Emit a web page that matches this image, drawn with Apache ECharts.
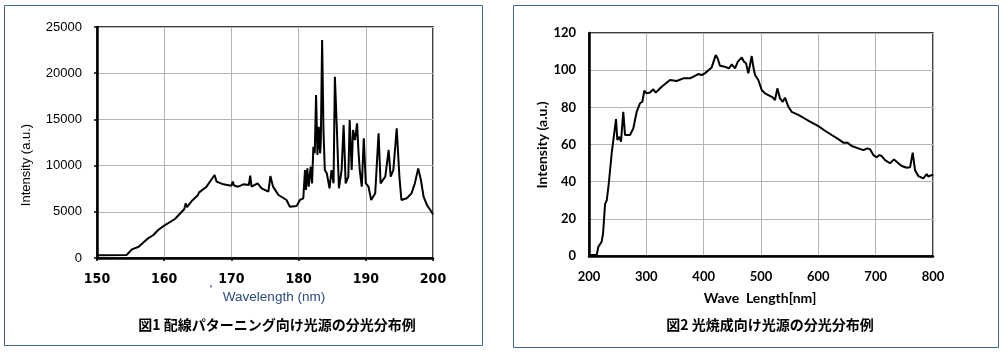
<!DOCTYPE html>
<html><head><meta charset="utf-8">
<script src="https://cdn.jsdelivr.net/npm/echarts@6/dist/echarts.min.js"></script>
<style>html,body{margin:0;padding:0;background:#fff}#c{width:1004px;height:354px}</style>
</head><body><div id="c"></div>
<script>
// Figure 1: wiring patterning light source spectrum
const leftX = [150,154.4,155.2,156.2,157.6,158.4,159.1,160,161.6,163.0,163.2,163.4,164.1,165.0,165.2,165.4,166.3,167.5,167.8,168.8,170,170.2,170.4,171,171.8,172.6,172.8,173,173.9,174.5,175.5,175.8,176.2,177,177.5,177.7,178.2,178.7,179.7,180.2,180.7,180.95,181.1,181.3,181.5,181.8,182.0,182.2,182.4,182.6,182.8,183.0,183.2,183.3,183.5,183.7,183.9,184.2,184.6,184.9,185.2,185.4,185.7,186.0,186.4,186.7,187.0,187.4,187.6,187.9,188.1,188.4,188.7,188.9,189.1,189.4,189.7,190.0,190.4,190.8,191.4,191.9,192.2,192.9,193.4,193.7,194.1,194.6,195.0,195.3,196.1,196.8,197.3,197.8,198.2,198.6,199.1,200];
const leftY = [300,320,940,1220,2130,2490,3030,3500,4220,5300,5920,5500,6170,6800,7100,6900,7720,8980,8260,7970,7820,8260,7850,7720,7970,7900,8910,7720,8080,7540,7180,8870,7720,6820,6600,6740,6280,5550,5630,6280,6460,9520,7360,9700,7720,9880,8080,12040,11330,17640,11140,14200,11330,12410,23590,13850,9520,9160,7540,9520,8080,19620,13850,7540,9520,14390,8080,8800,14930,9520,13850,12770,14570,11690,9520,7720,12950,8080,7720,6280,7000,13490,8080,8800,11690,8800,9520,14030,8800,6280,6460,7000,8080,9700,8440,6630,5730,4730];
const leftXTicks = [150,160,170,180,190,200];
const leftYTicks = [0,5000,10000,15000,20000,25000];

// Figure 2: photo-sintering light source spectrum
const rightX = [200,213.4,216.3,222.1,224.5,228,231,234.5,239.6,242.4,247.1,249.4,252.9,255.8,259.8,262.8,271.5,277.3,283.2,289,293,296.5,300.6,306.4,312.2,316.3,326.8,341.3,353,364.5,376.2,390.7,396.6,402.3,414,421,424.5,428.5,437.2,444.2,448.9,454.7,459.4,462.2,466.4,470.4,473.9,477.9,483.8,486.6,489.6,492.5,495.3,501.2,507,510,520.4,524.4,528.5,533.2,537.9,541.9,547.7,553.5,565.1,573.8,585.5,600,611.6,623.3,634.9,643.6,650.6,658.3,669.8,678.6,685.5,690.2,696,701.9,706.4,710.6,716.3,725.1,732,739.5,745.5,754.2,760,764.6,768.6,774.4,783.1,789,791.9,797.8,800];
const rightY = [0.5,0.5,5,7.7,12,28,30,39,55.3,56.1,73.7,62.4,64.2,61.5,77.6,65.1,65.1,68.7,77.6,82.2,83,88.9,87.5,88,89.7,87.9,91.1,94.7,94.2,95.6,95.6,97.9,97.4,98.3,101.5,108.1,106.3,102.4,101.8,101,103.1,101,104.5,103.7,106.9,104.5,103.7,98.3,107.6,101.8,97.4,98.3,94.7,89.3,87.5,87,85.4,83.9,90.2,84.8,83,85.2,80.3,77.6,75.9,74.4,72.3,69.9,67.4,65.1,62.9,61,61,59.2,57.9,57,57.9,57.4,54.3,53.1,54.3,53.8,51.6,49.9,52,49.9,48.4,47.5,47.7,55.6,46.3,43,41.8,44.1,42.7,43.6,43];
const rightXTicks = [200,300,400,500,600,700,800];
const rightYTicks = [0,20,40,60,80,100,120];

const texts = {
  leftYName: 'Intensity (a.u.)', leftXName: 'Wavelength (nm)',
  leftTitle: '図1 配線パターニング向け光源の分光分布例',
  rightYName: 'Intensity (a.u.)', rightXName: 'Wave  Length[nm]',
  rightTitle: '図2 光焼成向け光源の分光分布例'
};

const chart = echarts.init(document.getElementById('c'), null, {renderer:'canvas'});
const pair = (xs, ys) => xs.map((x,i)=>[x, ys[i]]);
const gridLine = {show:true, lineStyle:{color:'#b4b4b4', width:1}};
const cjk = '"Noto Sans CJK JP", sans-serif';
const plain = v => String(v);

chart.setOption({
  animation:false,
  grid:[
    {left:97, top:27, width:336, height:231, show:true, borderColor:'#000', borderWidth:1.5, backgroundColor:'transparent'},
    {left:589, top:33, width:344, height:223, show:true, borderColor:'#000', borderWidth:1.5, backgroundColor:'transparent'}
  ],
  xAxis:[
    {type:'value', gridIndex:0, min:leftXTicks[0], max:leftXTicks[leftXTicks.length-1], interval:10,
     axisLine:{show:true, onZero:false, lineStyle:{color:'#000', width:2.5}},
     axisTick:{show:true, length:3, lineStyle:{color:'#000', width:1.5}},
     splitLine:gridLine,
     axisLabel:{margin:14, color:'#000', formatter:plain, fontFamily:'"Liberation Sans Narrow", "DejaVu Sans Condensed", sans-serif', fontWeight:'bold', fontSize:14}},
    {type:'value', gridIndex:1, min:rightXTicks[0], max:rightXTicks[rightXTicks.length-1], interval:100,
     axisLine:{show:true, onZero:false, lineStyle:{color:'#000', width:2.5}},
     axisTick:{show:false},
     splitLine:gridLine,
     axisLabel:{margin:14, color:'#000', formatter:plain, fontFamily:'Lato, sans-serif', fontWeight:'bold', fontSize:13}}
  ],
  yAxis:[
    {type:'value', gridIndex:0, min:leftYTicks[0], max:leftYTicks[leftYTicks.length-1], interval:5000,
     axisLine:{show:true, onZero:false, lineStyle:{color:'#000', width:2.5}},
     axisTick:{show:true, length:3, lineStyle:{color:'#000', width:1.5}},
     splitLine:gridLine,
     axisLabel:{margin:15, color:'#000', formatter:plain, fontFamily:'"Liberation Sans", Arial, sans-serif', fontSize:13}},
    {type:'value', gridIndex:1, min:rightYTicks[0], max:rightYTicks[rightYTicks.length-1], interval:20,
     axisLine:{show:true, onZero:false, lineStyle:{color:'#000', width:2.5}},
     axisTick:{show:false},
     splitLine:gridLine,
     axisLabel:{margin:13, color:'#000', formatter:plain, fontFamily:'Lato, sans-serif', fontWeight:'bold', fontSize:13}}
  ],
  series:[
    {type:'line', xAxisIndex:0, yAxisIndex:0, data:pair(leftX,leftY), showSymbol:false, symbol:'none',
     lineStyle:{color:'#000', width:2}, z:5},
    {type:'line', xAxisIndex:1, yAxisIndex:1, data:pair(rightX,rightY), showSymbol:false, symbol:'none',
     lineStyle:{color:'#000', width:2}, z:5}
  ],
  graphic:[
    {type:'rect', shape:{x:4.5, y:5.5, width:478, height:340}, style:{fill:'none', stroke:'#41679a', lineWidth:1}, silent:true},
    {type:'rect', shape:{x:513.5, y:5.5, width:485, height:342}, style:{fill:'none', stroke:'#41679a', lineWidth:1}, silent:true},
    {type:'text', x:26, y:165, rotation:Math.PI/2,
     style:{text:texts.leftYName, fill:'#000', font:'13px "Liberation Sans", Arial, sans-serif', align:'center', verticalAlign:'middle'}},
    {type:'text', x:211, y:290,
     style:{text:"'", fill:'#2a4a78', font:'13px "Liberation Sans", Arial, sans-serif', align:'center', verticalAlign:'middle'}},
    {type:'text', x:274, y:297,
     style:{text:texts.leftXName, fill:'#2b4a7c', font:'13.5px "Liberation Sans", Arial, sans-serif', align:'center', verticalAlign:'middle'}},
    {type:'text', x:277, y:325,
     style:{text:texts.leftTitle, fill:'#000', font:'bold 14px ' + cjk, align:'center', verticalAlign:'middle'}},
    {type:'text', x:542, y:145, rotation:Math.PI/2,
     style:{text:texts.rightYName, fill:'#000', font:'bold 14px Lato, sans-serif', align:'center', verticalAlign:'middle'}},
    {type:'text', x:760, y:298,
     style:{text:texts.rightXName, fill:'#000', font:'bold 14px Lato, sans-serif', align:'center', verticalAlign:'middle'}},
    {type:'text', x:770, y:325,
     style:{text:texts.rightTitle, fill:'#000', font:'bold 14px ' + cjk, align:'center', verticalAlign:'middle'}}
  ]
});
</script></body></html>
